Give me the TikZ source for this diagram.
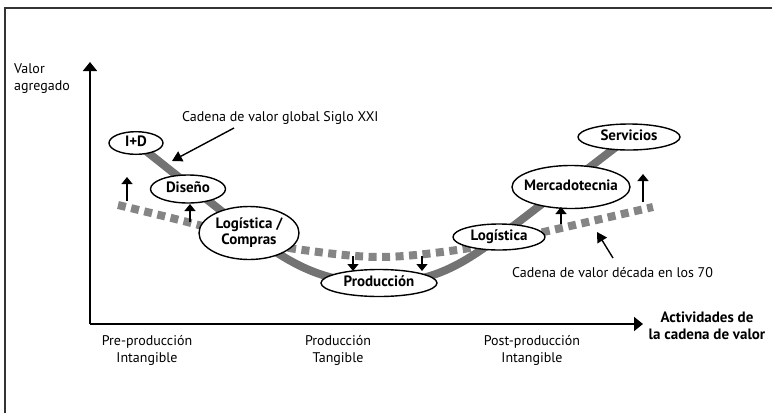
\documentclass[tikz,border=0pt]{standalone}
\usepackage{fontspec}
\setmainfont{PT Sans}
\usepackage{tikz}
\usetikzlibrary{shapes.geometric, arrows.meta, positioning, calc, backgrounds}
\newcommand{\stg}[1]{\makebox[0pt]{\begin{tabular}{@{}c@{}}#1\end{tabular}}}
\tikzset{
  stage/.style   = {ellipse, draw, line width=1.4pt, fill=white, inner sep=0pt,
                    font=\fontsize{15}{16}\selectfont\bfseries},
  axis/.style    = {line width=1.8pt, -{Triangle[width=14pt,length=9pt]}},
  shiftarrow/.style = {line width=1.4pt, -{Triangle[width=11pt,length=7pt]}},
  lblarrow/.style= {line width=1.4pt, -{Triangle[width=11pt,length=10pt]}},
  newchain/.style= {line width=8pt, draw=black!55},
  oldchain/.style= {line width=8pt, draw=black!48, dash pattern=on 8pt off 5.5pt},
  txt/.style     = {font=\fontsize{14}{17}\selectfont, align=center, inner sep=1pt},
}

\begin{document}
\begin{tikzpicture}[x=1pt, y=-1pt]

    \useasboundingbox (0,0) rectangle (772,416);

    % frame
    \draw[line width=1.5pt, black!80] (5,413) -- (5,8) -- (772,8);

    % axes
    \coordinate (origin) at (90,324);
    \coordinate (ytip)   at (90,62);
    \coordinate (xtip)   at (643,324);
    \draw[axis] (origin) -- (ytip);
    \draw[axis] (origin) -- (xtip);

    \node[txt, align=left, anchor=north west] (yname) at (13,62) {Valor\\agregado};
    \node[txt, font=\fontsize{15}{17}\selectfont\bfseries, anchor=center] (xname) at (707,326)
      {Actividades de\\la cadena de valor};

    \node[txt] (pre)  at (147,350) {Pre-producción\\Intangible};
    \node[txt] (mid)  at (338,350) {Producción\\Tangible};
    \node[txt] (post) at (532,350) {Post-producción\\Intangible};

    % stages of the chain
    \node[stage, minimum width=54pt,  minimum height=22pt] (id)      at (136,143) {\stg{I+D}};
    \node[stage, minimum width=75pt,  minimum height=28pt] (diseno)  at (188,189) {\stg{Diseño}};
    \node[stage, minimum width=100pt, minimum height=53pt] (logcomp) at (249,233) {\stg{Logística /\\Compras}};
    \node[stage, minimum width=116pt, minimum height=27pt] (prod)    at (379,283) {\stg{Producción}};
    \node[stage, minimum width=92pt,  minimum height=26pt] (logis)   at (499,237) {\stg{Logística}};
    \node[stage, minimum width=118pt, minimum height=43pt] (merca)   at (571,187) {\stg{Mercadotecnia}};
    \node[stage, minimum width=102pt, minimum height=26pt] (serv)    at (629,137) {\stg{Servicios}};

    \begin{scope}[on background layer]
      % chain of the 70s
      \coordinate (old1) at (118,205);
      \coordinate (old2) at (653,207);
      \draw[oldchain] plot[smooth, tension=0.6] coordinates
        {(old1) (195,224) (250,240) (303,250) (380,257) (457,250) (500,241) (548,231) (old2)};
      % chain of the 21st century
      \draw[newchain] (id.center) -- (logcomp.center)
        to[out=-37, in=180] (prod.center)
        to[out=0, in=-143] (logis.center) -- (serv.center);
    \end{scope}

    % shifts between the chains
    \draw[shiftarrow] (127,201) -- (127,177);
    \draw[shiftarrow] (190,222) -- (190,204);
    \draw[shiftarrow] (353,256) -- (353,271);
    \draw[shiftarrow] (422,256) -- (422,271);
    \draw[shiftarrow] (561,224) -- (561,207);
    \draw[shiftarrow] (643,202) -- (643,174);

    % labels
    \node[txt, anchor=west] (glabel) at (181,118) {Cadena de valor global Siglo XXI};
    \node[txt, anchor=west] (olabel) at (511,273) {Cadena de valor década en los 70};
    \coordinate (gtip) at (172,161);
    \coordinate (otip) at (597,232);
    \draw[lblarrow] (234,128) -- (gtip);
    \draw[lblarrow] (613,258) -- (otip);

  \end{tikzpicture}
\end{document}
